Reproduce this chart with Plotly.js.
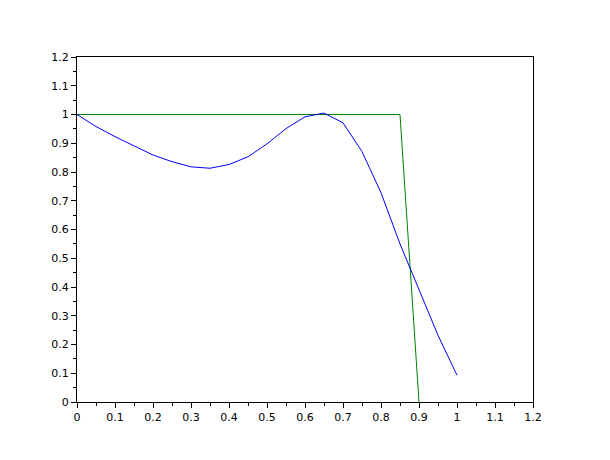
<!DOCTYPE html>
<html>
<head>
<meta charset="utf-8">
<script src="https://cdn.plot.ly/plotly-3.0.1.min.js"></script>
<style>html,body{margin:0;padding:0;background:#fff}#chart{width:610px;height:460px}</style>
</head>
<body>
<div id="chart"></div>
<script>
const blueX = [0, 0.05, 0.1, 0.15, 0.2, 0.25, 0.3, 0.35, 0.4, 0.45, 0.5, 0.55, 0.6, 0.65, 0.7, 0.75, 0.8, 0.85, 0.9, 0.95, 1.0];
const blueY = [1.0, 0.958, 0.923, 0.892, 0.859, 0.836, 0.818, 0.813, 0.826, 0.853, 0.898, 0.951, 0.992, 1.005, 0.971, 0.871, 0.728, 0.55, 0.388, 0.232, 0.093];
const greenX = [0, 0.85, 0.9];
const greenY = [1, 1, 0];
const tickVals = [0, 0.1, 0.2, 0.3, 0.4, 0.5, 0.6, 0.7, 0.8, 0.9, 1, 1.1, 1.2];
const tickText = ['0', '0.1', '0.2', '0.3', '0.4', '0.5', '0.6', '0.7', '0.8', '0.9', '1', '1.1', '1.2'];

const axisCommon = {
  range: [0, 1.2],
  tickvals: tickVals,
  ticktext: tickText,
  ticks: 'outside',
  ticklen: 5,
  tickwidth: 1,
  tickcolor: '#000',
  showline: true,
  linecolor: '#000',
  linewidth: 1,
  mirror: true,
  showgrid: false,
  zeroline: false,
  minor: {ticks: 'outside', ticklen: 3, tickcolor: '#000', dtick: 0.05, showgrid: false},
  tickfont: {family: 'DejaVu Sans', size: 11, color: '#000'}
};

const data = [
  {x: greenX, y: greenY, mode: 'lines', line: {color: '#008000', width: 1}, hoverinfo: 'skip'},
  {x: blueX, y: blueY, mode: 'lines', line: {color: '#0000ff', width: 1}, hoverinfo: 'skip'}
];
const layout = {
  width: 610, height: 460,
  margin: {l: 77, r: 77, t: 57, b: 58},
  showlegend: false,
  paper_bgcolor: '#fff', plot_bgcolor: '#fff',
  xaxis: Object.assign({}, axisCommon),
  yaxis: Object.assign({}, axisCommon)
};
Plotly.newPlot('chart', data, layout, {staticPlot: true, displayModeBar: false});
</script>
</body>
</html>
